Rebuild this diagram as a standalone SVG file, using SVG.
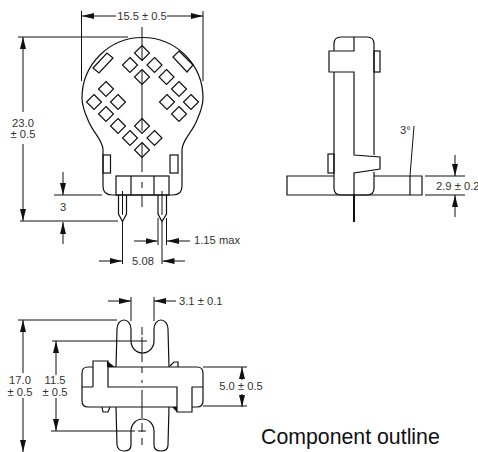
<svg xmlns="http://www.w3.org/2000/svg" width="478" height="452" viewBox="0 0 478 452">
<defs>
<marker id="a" viewBox="0 0 12 6" refX="12" refY="3" markerWidth="12" markerHeight="6" markerUnits="userSpaceOnUse" orient="auto"><path d="M0 0L12 3L0 6Z" fill="#111"/></marker>
<path id="d" d="M0 -7.5L7.500 0L0 7.500L-7.500 0Z"/>
</defs>
<style>
.l{fill:none;stroke:#111;stroke-width:1.2}
.h{fill:none;stroke:#111;stroke-width:1}
.m{fill:none;stroke:#111;stroke-width:1;marker-end:url(#a)}
.k{fill:#111;stroke:none}
text{font-family:"Liberation Sans",Arial,sans-serif;font-size:11.2px;fill:#333}
.t{font-size:21.3px;fill:#111}
use{fill:#fff;stroke:#111;stroke-width:1.2}
</style>
<rect width="478" height="452" fill="#fff"/>
<g id="front-view">
<path class="l" d="M103 150C103 140 93 133 88 120C84 111 82 105 82 98A60.500 60.500 0 0 1 203 98C203 105 201 111 197 120C192 133 182 140 182 150L182 186Q182 195 173 195L112 195Q103 195 103 186Z"/>
<path class="l" d="M93 68L107 53L113 58L99 73Z"/>
<path class="l" d="M173 57L179 51L193 65L187 72Z"/>
<rect class="l" x="103" y="155" width="7.500" height="18"/>
<rect class="l" x="170" y="155" width="8" height="18"/>
<rect class="l" x="116" y="176" width="53" height="19"/>
<path class="l" d="M131 176V195M154 176V195"/>
<path class="l" d="M118.500 195V214L122.500 221.500L126.500 214V195"/>
<path class="l" d="M158 195V214L162 221.500L166.500 214V195"/>
<path class="h" d="M122.500 191V215M162 191V215"/>
<use href="#d" x="142" y="53"/><use href="#d" x="130" y="65"/><use href="#d" x="154.500" y="65"/><use href="#d" x="142" y="77"/>
<use href="#d" x="166.500" y="77"/><use href="#d" x="179" y="89"/><use href="#d" x="167" y="102"/><use href="#d" x="191" y="102"/><use href="#d" x="179" y="114"/>
<use href="#d" x="106" y="89"/><use href="#d" x="94" y="102"/><use href="#d" x="118" y="102"/><use href="#d" x="106" y="114"/>
<use href="#d" x="118" y="126"/><use href="#d" x="142" y="126"/><use href="#d" x="130" y="138"/><use href="#d" x="154.500" y="138"/><use href="#d" x="142" y="150"/>
</g>
<g id="side-view">
<path class="l" d="M334 51V44Q334 37 341 37H367Q374 37 374 44V155M374 172V188Q374 195 367 195H341Q334 195 334 188V72"/>
<path class="l" d="M354 37V51H329V72H354V155L380 157V169L354 173V195"/>
<rect class="l" x="374" y="51" width="6" height="21"/>
<rect class="l" x="328" y="154" width="6" height="19"/>
<path class="l" d="M334 176H287V195H422V176H374"/>
<path class="l" d="M410 176V195"/>
<path class="h" d="M410 176L414 126"/>
<path d="M354 195V222" fill="none" stroke="#111" stroke-width="2"/>
</g>
<g id="bottom-view">
<path class="l" d="M116 367L117 329A7 9 0 0 1 131 329V341A11.500 12 0 0 0 154 341V329A7 9 0 0 1 168 329L169 367"/>
<path class="l" d="M116 407L117 445Q118 451 124 451Q131 451 131 445V431A11.500 12 0 0 1 154 431V445Q154 451 161 451Q168 451 168 445L169 407"/>
<path class="l" d="M93 387V361H108V387H177V412H192V387H203M82 387H93"/>
<path class="l" d="M93 367H88Q82 367 82 373V401Q82 407 88 407H177M108 367H197Q203 367 203 373V401Q203 407 197 407H192"/>
<path class="l" d="M170 366L174 362H178V367M102 407L103 412H108L110 407"/>
<path class="k" d="M107 361L115 367H107ZM177 412L172 407H177Z"/>
</g>
<g id="connectors">
<path class="h" d="M142 27V61M142 70V131M142 143V172M142 182V188M142 195V207"/>
<path class="h" d="M142 327V335M142 337V362M142 367V373M142 380V383M142 390V418M142 423V432M142 438V445"/>
<path class="h" d="M81.500 11V81M203 11V81M18 37H128M20 221H118M54 195H102M122.500 222V264M162 222V264M158 218V245M166.500 218V245M425 176H465M425 195H465M117 320H18M52 341H147M51 431H135M138 431H146M131 297V321M154 297V321M203 367H247M203 406H247"/>
<path class="m" d="M116 16H82"/><path class="m" d="M167 16H203"/>
<path class="m" d="M23 112V37"/><path class="m" d="M23 144V221"/>
<path class="m" d="M63 172V195"/><path class="m" d="M63 244V222"/>
<path class="m" d="M134 241H157.500"/><path class="m" d="M190 241H167"/>
<path class="m" d="M99 261H122"/><path class="m" d="M185 261H162.500"/>
<path class="m" d="M455 155V176"/><path class="m" d="M455 217V195"/>
<path class="m" d="M108 301H131"/><path class="m" d="M176 301H154"/>
<path class="m" d="M23 373V320"/><path class="m" d="M23 398V452"/>
<path class="m" d="M56 375V341"/><path class="m" d="M56 398V431"/>
<path class="m" d="M242 380V367"/><path class="m" d="M242 394V407"/>
</g>
<g id="labels">
<text x="142" y="20" text-anchor="middle">15.5 ± 0.5</text>
<text x="23" y="127" text-anchor="middle">23.0</text><text x="23" y="138" text-anchor="middle">± 0.5</text>
<text x="63" y="211" text-anchor="middle">3</text>
<text x="194" y="244">1.15 max</text>
<text x="143" y="265" text-anchor="middle">5.08</text>
<text x="400" y="134">3°</text>
<text x="436" y="190">2.9 ± 0.2</text>
<text x="179" y="305">3.1 ± 0.1</text>
<text x="20" y="384" text-anchor="middle">17.0</text><text x="20" y="396" text-anchor="middle">± 0.5</text>
<text x="55" y="384" text-anchor="middle">11.5</text><text x="55" y="396" text-anchor="middle">± 0.5</text>
<text x="241" y="390" text-anchor="middle">5.0 ± 0.5</text>
<text class="t" x="261" y="444">Component outline</text>
</g>
</svg>
